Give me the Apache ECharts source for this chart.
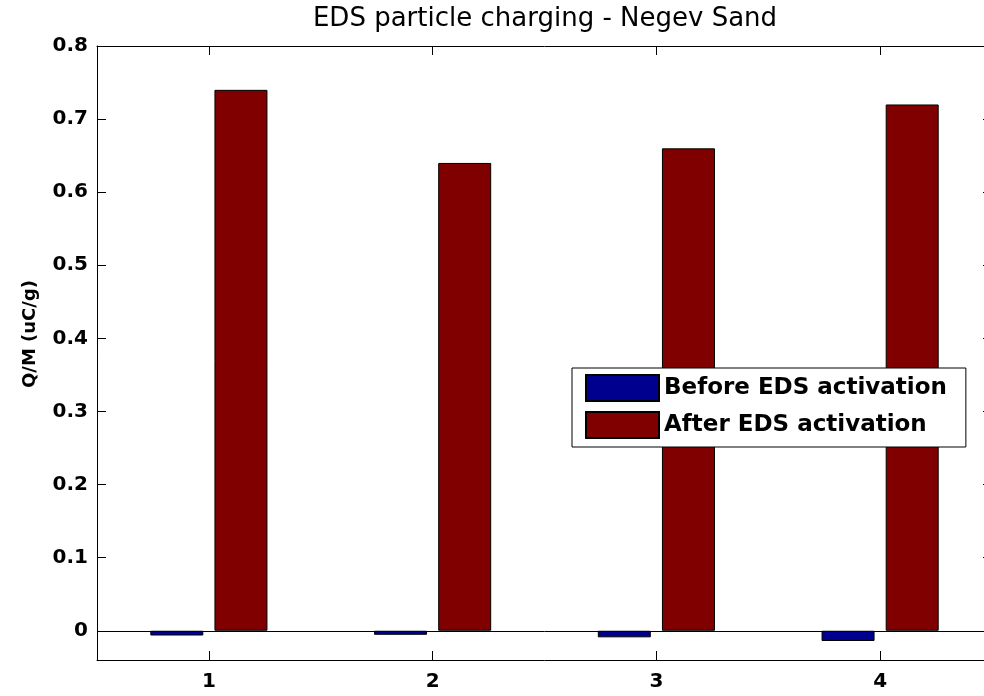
<!DOCTYPE html>
<html>
<head>
<meta charset="utf-8">
<script src="https://cdn.jsdelivr.net/npm/echarts@6/dist/echarts.min.js"></script>
<style>html,body{margin:0;padding:0;background:#fff;overflow:hidden;}#c{width:992px;height:696px;}</style>
</head>
<body>
<div id="c"></div>
<script>
var categories = ['1', '2', '3', '4'];
var beforeValues = [-0.0065, -0.0055, -0.009, -0.014];
var afterValues = [0.74, 0.64, 0.66, 0.72];
var yTicks = [0, 0.1, 0.2, 0.3, 0.4, 0.5, 0.6, 0.7, 0.8];
var seriesNames = ['Before EDS activation', 'After EDS activation'];
var titleText = 'EDS particle charging - Negev Sand';
var yLabel = 'Q/M (uC/g)';

var FONT = 'DejaVu Sans';
var chart = echarts.init(document.getElementById('c'), null, {renderer: 'canvas'});
var tickFont = {fontFamily: FONT, fontWeight: 'bold', fontSize: 20, color: '#000'};
chart.setOption({
  animation: false,
  backgroundColor: '#fff',
  title: {
    text: titleText,
    left: 540, top: 1, textAlign: 'center',
    textStyle: {fontFamily: FONT, fontWeight: 'normal', fontSize: 26, color: '#000'}
  },
  legend: {
    orient: 'vertical',
    left: 572, top: 368,
    itemWidth: 73, itemHeight: 26, itemGap: 9,
    padding: [6, 19, 8, 13],
    borderColor: '#000', borderWidth: 1,
    backgroundColor: '#fff',
    icon: 'rect',
    textStyle: {fontFamily: FONT, fontWeight: 'bold', fontSize: 23, color: '#000'},
    data: seriesNames
  },
  grid: {left: 97, top: 46, right: 0, bottom: 36, containLabel: false},
  xAxis: [{
    type: 'category', data: categories, position: 'bottom',
    boundaryGap: true,
    axisLine: {show: true, onZero: false, lineStyle: {color: '#000', width: 1}},
    axisTick: {show: true, inside: true, length: 9, alignWithLabel: true, lineStyle: {color: '#000'}},
    axisLabel: Object.assign({margin: 12}, tickFont),
    splitLine: {show: false}
  }, {
    type: 'category', data: categories, position: 'top',
    boundaryGap: true,
    axisLine: {show: true, onZero: false, lineStyle: {color: '#000', width: 1}},
    axisTick: {show: true, inside: true, length: 9, alignWithLabel: true, lineStyle: {color: '#000'}},
    axisLabel: {show: false},
    splitLine: {show: false}
  }],
  yAxis: [{
    type: 'value', min: -0.04, max: 0.8, position: 'left',
    name: yLabel, nameLocation: 'middle', nameGap: 58, nameRotate: 90,
    nameTextStyle: {fontFamily: FONT, fontWeight: 'bold', fontSize: 18, color: '#000', padding: [0, 0, 0, 38]},
    axisLine: {show: true, onZero: false, lineStyle: {color: '#000', width: 1}},
    axisTick: {show: true, inside: true, length: 9, customValues: yTicks, lineStyle: {color: '#000'}},
    axisLabel: Object.assign({margin: 9, customValues: yTicks, formatter: function (v) { return String(Math.round(v * 10) / 10); }}, tickFont),
    splitLine: {show: false}
  }, {
    type: 'value', min: -0.04, max: 0.8, position: 'right',
    axisLine: {show: true, onZero: false, lineStyle: {color: '#000', width: 1}},
    axisTick: {show: true, inside: true, length: 9, customValues: yTicks, lineStyle: {color: '#000'}},
    axisLabel: {show: false},
    splitLine: {show: false}
  }],
  series: [{
    name: seriesNames[0], type: 'bar', data: beforeValues,
    barWidth: 53, barGap: '21%',
    itemStyle: {color: '#00008F', borderColor: '#000', borderWidth: 1},
    markLine: {
      silent: true, symbol: 'none', label: {show: false},
      lineStyle: {color: '#000', width: 1, type: 'solid'},
      data: [{yAxis: 0}]
    }
  }, {
    name: seriesNames[1], type: 'bar', data: afterValues,
    barWidth: 53, barGap: '21%',
    itemStyle: {color: '#800000', borderColor: '#000', borderWidth: 1}
  }]
});
</script>
</body>
</html>
